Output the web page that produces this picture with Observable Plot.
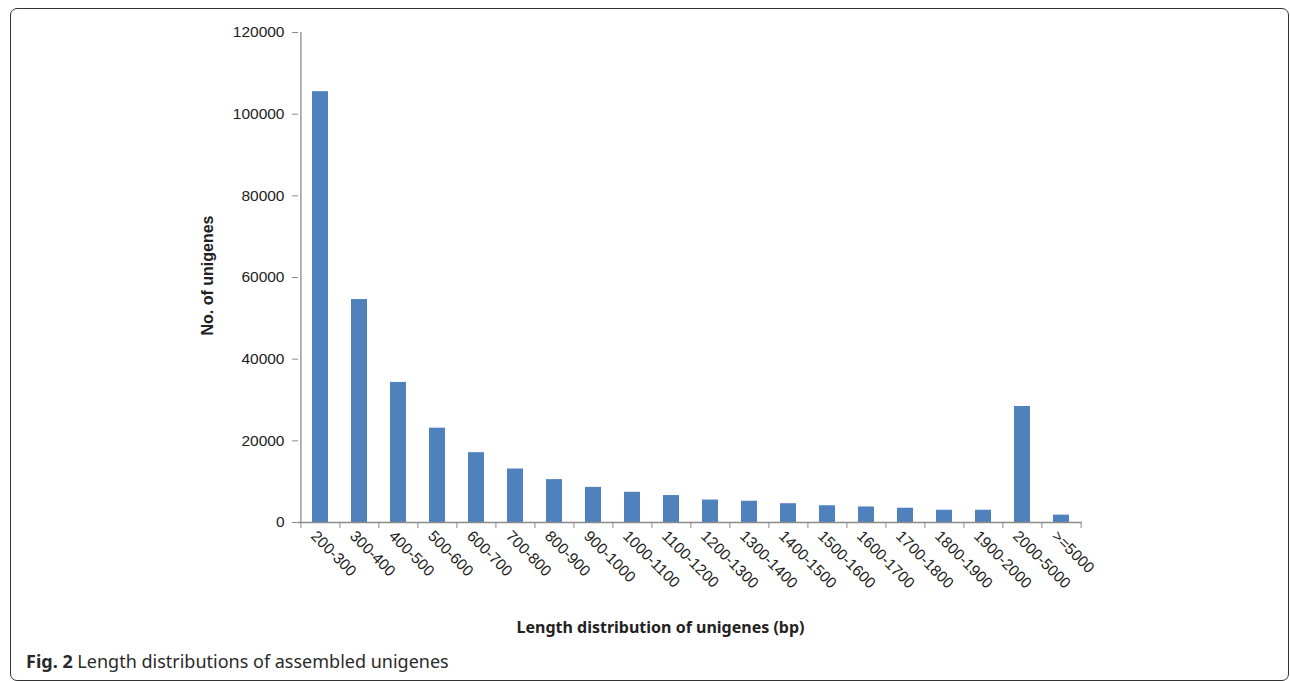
<!DOCTYPE html>
<html><head><meta charset="utf-8">
<script src="https://cdn.jsdelivr.net/npm/d3@7"></script>
<script src="https://cdn.jsdelivr.net/npm/@observablehq/plot@0.6"></script>
<style>
body{margin:0;background:#fff;}
#wrap{position:relative;width:1290px;height:681px;overflow:hidden;background:#fff;}
#frame{position:absolute;left:10px;top:8px;width:1279px;height:673px;border:1.6px solid #333;border-radius:7px;box-sizing:border-box;}
#chart{position:absolute;left:0;top:0;}
#caption{position:absolute;left:26px;top:649px;font-family:"Noto Sans";font-size:18px;line-height:24px;color:#2a2a2a;white-space:nowrap;}
#caption b{font-weight:700;}
</style></head>
<body>
<div id="wrap"><div id="frame"></div><div id="chart"></div><div id="caption"><b>Fig. 2</b> Length distributions of assembled unigenes</div></div>
<script>
const categories = ["200-300","300-400","400-500","500-600","600-700","700-800","800-900","900-1000","1000-1100","1100-1200","1200-1300","1300-1400","1400-1500","1500-1600","1600-1700","1700-1800","1800-1900","1900-2000","2000-5000",">=5000"];
const counts = [105500,54600,34300,23100,17100,13100,10500,8600,7400,6600,5500,5200,4600,4100,3800,3500,3000,3000,28400,1800];
const yTicks = [0,20000,40000,60000,80000,100000,120000];
const xTitle = "Length distribution of unigenes (bp)";
const yTitle = "No. of unigenes";

const data = categories.map((c,i)=>({cat:c, n:counts[i]}));
const W = 1290, H = 681, ML = 298, MR = 208, MT = 32, MB = 159;
const step = (W-ML-MR)/categories.length;
const axisColor = "#8a8a8a";

const chart = Plot.plot({
  width: W, height: H,
  marginLeft: ML, marginRight: MR, marginTop: MT, marginBottom: MB,
  style: {fontFamily: "Liberation Sans, Arial, sans-serif", fontSize: "15px", color: "#222", background: "transparent"},
  x: {type: "band", domain: categories, paddingInner: 0.59, paddingOuter: 0.295, align: 0.5},
  y: {domain: [0,120000]},
  marks: [
    Plot.barY(data, {x:"cat", y:"n", fill:"#4f81bd"}),
    Plot.ruleY([0], {stroke: axisColor, strokeWidth: 1.3}),
    Plot.ruleX([categories[0]], {x: d => d, dx: -step/2, y1: 0, y2: 120000, stroke: axisColor, strokeWidth: 1.3}),
    Plot.axisY({ticks: yTicks, tickSize: 6, tickPadding: 8, stroke: axisColor, tickFormat: d => String(d), label: null, fontSize: 15.5}),
    Plot.axisX({tickSize: 6, tickFormat: () => "", dx: -step/2, stroke: axisColor, label: null}),
    Plot.axisX({ticks: [categories[categories.length-1]], tickSize: 6, tickFormat: () => "", dx: step/2, stroke: axisColor, label: null}),
    Plot.axisX({tickSize: 0, tickRotate: 45, textAnchor: "start", tickPadding: 10, dx: -7, dy: 1, label: null, fontSize: 15.5}),
    Plot.text([xTitle], {text: d => d, frameAnchor: "bottom", dx: -30, dy: 110, fontWeight: "bold", fontSize: 16, fontFamily: "Noto Sans", fill: "#222"}),
    Plot.text([yTitle], {text: d => d, frameAnchor: "left", textAnchor: "middle", dx: -91, dy: -2, rotate: -90, fontWeight: "bold", fontSize: 16, fill: "#222"})
  ]
});
document.getElementById("chart").appendChild(chart);
</script>
</body></html>
